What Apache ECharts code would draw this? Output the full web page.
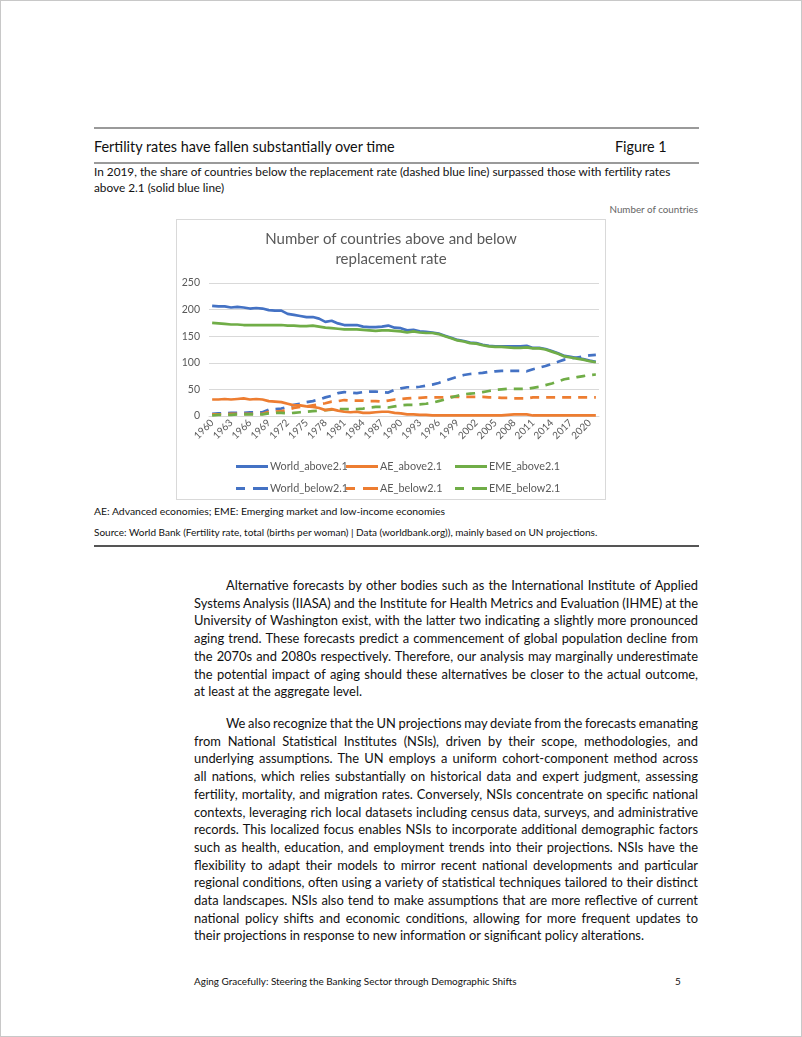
<!DOCTYPE html>
<html>
<head>
<meta charset="utf-8">
<script src="https://cdn.jsdelivr.net/npm/echarts@6/dist/echarts.min.js"></script>
<style>
  html, body { margin:0; padding:0; background:#fff; }
  body { width:802px; height:1037px; position:relative; overflow:hidden; font-family: Lato, "Open Sans", sans-serif; color:#111; }
  .frame { position:absolute; left:0; top:0; width:800px; height:1035px; border:1px solid #c8c8c8; }
  .abs { position:absolute; white-space:nowrap; }
  .rule { position:absolute; left:94px; width:605px; }
  .para { position:absolute; left:194px; width:504px; font-size:12.9px; line-height:17.7px; color:#111; }
  .para div { white-space:nowrap; }
  .para div.ind { padding-left:32px; }
  #chart { position:absolute; left:176px; top:219px; width:430px; height:281px; border:1px solid #d9d9d9; box-sizing:border-box; }
</style>
</head>
<body>
<div class="frame"></div>

<div class="rule" style="top:127px;height:1.5px;background:#9a9a9a;"></div>
<div class="abs" style="left:94px;top:138px;font-size:14.4px;color:#111;">Fertility rates have fallen substantially over time</div>
<div class="abs" style="left:615px;top:138px;font-size:14.4px;color:#111;">Figure 1</div>
<div class="rule" style="top:162px;height:1.5px;background:#9a9a9a;"></div>
<div class="abs" style="left:94px;top:164px;font-size:11.8px;line-height:16px;color:#111;">In 2019, the share of countries below the replacement rate (dashed blue line) surpassed those with fertility rates<br>above 2.1 (solid blue line)</div>
<div class="abs" style="right:104px;top:203px;font-size:9.8px;color:#666;">Number of countries</div>

<div id="chart"></div>

<div class="abs" style="left:94px;top:505px;font-size:10.4px;color:#111;">AE: Advanced economies; EME: Emerging market and low-income economies</div>
<div class="abs" style="left:94px;top:526px;font-size:10px;color:#111;">Source: World Bank (Fertility rate, total (births per woman) | Data (worldbank.org)), mainly based on UN projections.</div>
<div class="rule" style="top:545px;height:1.5px;background:#555;"></div>

<div class="para" style="top:577px;">
<div class="ind"><span>Alternative forecasts by other bodies such as the International Institute of Applied</span></div>
<div><span>Systems Analysis (IIASA) and the Institute for Health Metrics and Evaluation (IHME) at the</span></div>
<div><span>University of Washington exist, with the latter two indicating a slightly more pronounced</span></div>
<div><span>aging trend. These forecasts predict a commencement of global population decline from</span></div>
<div><span>the 2070s and 2080s respectively. Therefore, our analysis may marginally underestimate</span></div>
<div><span>the potential impact of aging should these alternatives be closer to the actual outcome,</span></div>
<div class="last"><span>at least at the aggregate level.</span></div>
</div>

<div class="para" style="top:715px;">
<div class="ind"><span>We also recognize that the UN projections may deviate from the forecasts emanating</span></div>
<div><span>from National Statistical Institutes (NSIs), driven by their scope, methodologies, and</span></div>
<div><span>underlying assumptions. The UN employs a uniform cohort-component method across</span></div>
<div><span>all nations, which relies substantially on historical data and expert judgment, assessing</span></div>
<div><span>fertility, mortality, and migration rates. Conversely, NSIs concentrate on specific national</span></div>
<div><span>contexts, leveraging rich local datasets including census data, surveys, and administrative</span></div>
<div><span>records. This localized focus enables NSIs to incorporate additional demographic factors</span></div>
<div><span>such as health, education, and employment trends into their projections. NSIs have the</span></div>
<div><span>flexibility to adapt their models to mirror recent national developments and particular</span></div>
<div><span>regional conditions, often using a variety of statistical techniques tailored to their distinct</span></div>
<div><span>data landscapes. NSIs also tend to make assumptions that are more reflective of current</span></div>
<div><span>national policy shifts and economic conditions, allowing for more frequent updates to</span></div>
<div class="last"><span>their projections in response to new information or significant policy alterations.</span></div>
</div>

<div class="abs" style="left:194px;top:975px;font-size:9.95px;color:#111;">Aging Gracefully: Steering the Banking Sector through Demographic Shifts</div>
<div class="abs" style="left:675px;top:975px;font-size:9.95px;color:#111;">5</div>

<script>
// justify each body line to the 504 px column by adjusting word spacing
document.querySelectorAll('.para div').forEach(function (d) {
  if (d.classList.contains('last')) return;
  const span = d.querySelector('span');
  const target = 504 - (d.classList.contains('ind') ? 32 : 0);
  const w = span.getBoundingClientRect().width;
  const n = (span.textContent.match(/ /g) || []).length;
  if (n > 0) span.style.wordSpacing = ((target - w) / n) + 'px';
});
</script>

<script>
// ---- data ----
const years = [];
for (let y = 1960; y <= 2021; y++) years.push(String(y));

const worldAbove = [
  207,206,206,204,205,204,202,203,202,199,
  198,198,192,190,188,186,186,183,177,179,
  174,171,171,171,168,167,167,168,170,166,
  165,161,162,159,158,157,155,151,147,143,
  141,138,137,134,132,131,131,131,131,131,
  132,128,128,126,122,118,113,111,109,107,
  104,102];
const aeAbove = [
  31,31,32,31,32,33,31,32,31,28,
  27,26,23,20,20,18,17,15,11,13,
  10,8,7,8,6,6,7,8,8,6,
  5,3,3,2,2,1,1,1,1,1,
  1,1,1,1,1,1,1,2,3,3,
  3,1,1,1,1,1,1,1,1,1,
  1,1];
const emeAbove = [
  175,174,173,172,172,171,171,171,171,171,
  171,171,170,170,169,169,170,168,166,165,
  164,163,163,163,162,161,160,161,161,160,
  159,157,159,157,156,156,154,150,146,142,
  140,137,136,133,131,130,130,129,128,128,
  129,127,127,125,121,117,112,110,108,106,
  103,101];
const worldBelow = [
  4,5,5,6,6,6,7,7,7,12,
  13,14,17,21,23,26,28,31,35,38,
  43,45,44,43,45,46,46,45,44,49,
  52,54,54,55,57,59,62,66,70,74,
  77,79,80,81,83,84,85,85,85,85,
  84,88,91,94,98,102,106,108,110,112,
  114,115];
const aeBelow = [
  3,3,3,4,4,4,4,4,4,8,
  8,9,12,15,17,18,20,22,24,27,
  28,30,29,29,29,28,28,27,29,31,
  32,33,34,34,35,35,35,35,36,36,
  36,36,36,36,35,35,34,34,33,33,
  33,35,35,35,35,35,35,35,35,35,
  35,35];
const emeBelow = [
  1,2,2,2,3,3,3,3,3,5,
  6,6,5,6,7,8,9,10,11,12,
  13,13,13,13,14,16,17,17,16,18,
  20,21,21,22,23,25,28,31,35,38,
  41,42,43,45,47,49,50,51,51,51,
  51,53,55,58,61,65,69,71,73,75,
  77,78];
const yTicks = [0, 50, 100, 150, 200, 250];

const seriesNames = ['World_above2.1','AE_above2.1','EME_above2.1','World_below2.1','AE_below2.1','EME_below2.1'];
const seriesData = [worldAbove, aeAbove, emeAbove, worldBelow, aeBelow, emeBelow];
const colors = ['#4472C4','#ED7D31','#70AD47','#4472C4','#ED7D31','#70AD47'];
const dashed = [false,false,false,true,true,true];

// ---- chart ----
const chart = echarts.init(document.getElementById('chart'), null, {renderer:'canvas'});
const legendLeft = [59, 169, 278];
const legendTop = [241, 263];
const FONT = 'Lato, "Open Sans", sans-serif';
const solidIcon = 'path://M0,0H32V3H0Z';
const dashIcon = 'path://M0,0H9V3H0Z M17,0H32V3H17Z';

const legends = seriesNames.map((n, i) => ({
  data: [{ name: n, icon: dashed[i] ? dashIcon : solidIcon }],
  left: legendLeft[i % 3],
  top: legendTop[Math.floor(i / 3)],
  itemWidth: 32,
  itemHeight: 3,
  padding: 0,
  selectedMode: false,
  itemStyle: { color: colors[i], borderWidth: 0 },
  textStyle: { color:'#595959', fontSize:10.8, fontFamily: FONT, padding:[0,0,0,-3] }
}));

chart.setOption({
  animation: false,
  color: colors,
  title: {
    text: 'Number of countries above and below\nreplacement rate',
    left: 'center',
    top: 4,
    textStyle: { color:'#595959', fontSize:15, fontWeight:'normal', fontFamily: FONT, lineHeight: 20 }
  },
  legend: legends,
  grid: { left: 32, right: 6, top: 63, height: 133 },
  xAxis: {
    type: 'category',
    data: years,
    boundaryGap: true,
    axisLine: { show: true, lineStyle: { color:'#d9d9d9', width:1 } },
    axisTick: { show: false },
    axisLabel: { interval: 2, rotate: 45, color:'#595959', fontSize:10, fontFamily: FONT, margin: 5 }
  },
  yAxis: {
    type: 'value',
    min: yTicks[0],
    max: yTicks[yTicks.length - 1],
    interval: 50,
    axisLine: { show: false },
    axisTick: { show: false },
    splitLine: { lineStyle: { color:'#d9d9d9', width:1 } },
    axisLabel: { color:'#595959', fontSize:10.5, fontFamily: FONT, margin: 9 }
  },
  series: seriesNames.map((n, i) => ({
    name: n,
    type: 'line',
    data: seriesData[i],
    symbol: 'none',
    smooth: false,
    lineStyle: { width: 2.7, color: colors[i], type: dashed[i] ? [9, 7] : 'solid', cap: 'butt' },
    itemStyle: { color: colors[i] },
    z: dashed[i] ? 2 : 3
  }))
});
</script>
</body>
</html>
